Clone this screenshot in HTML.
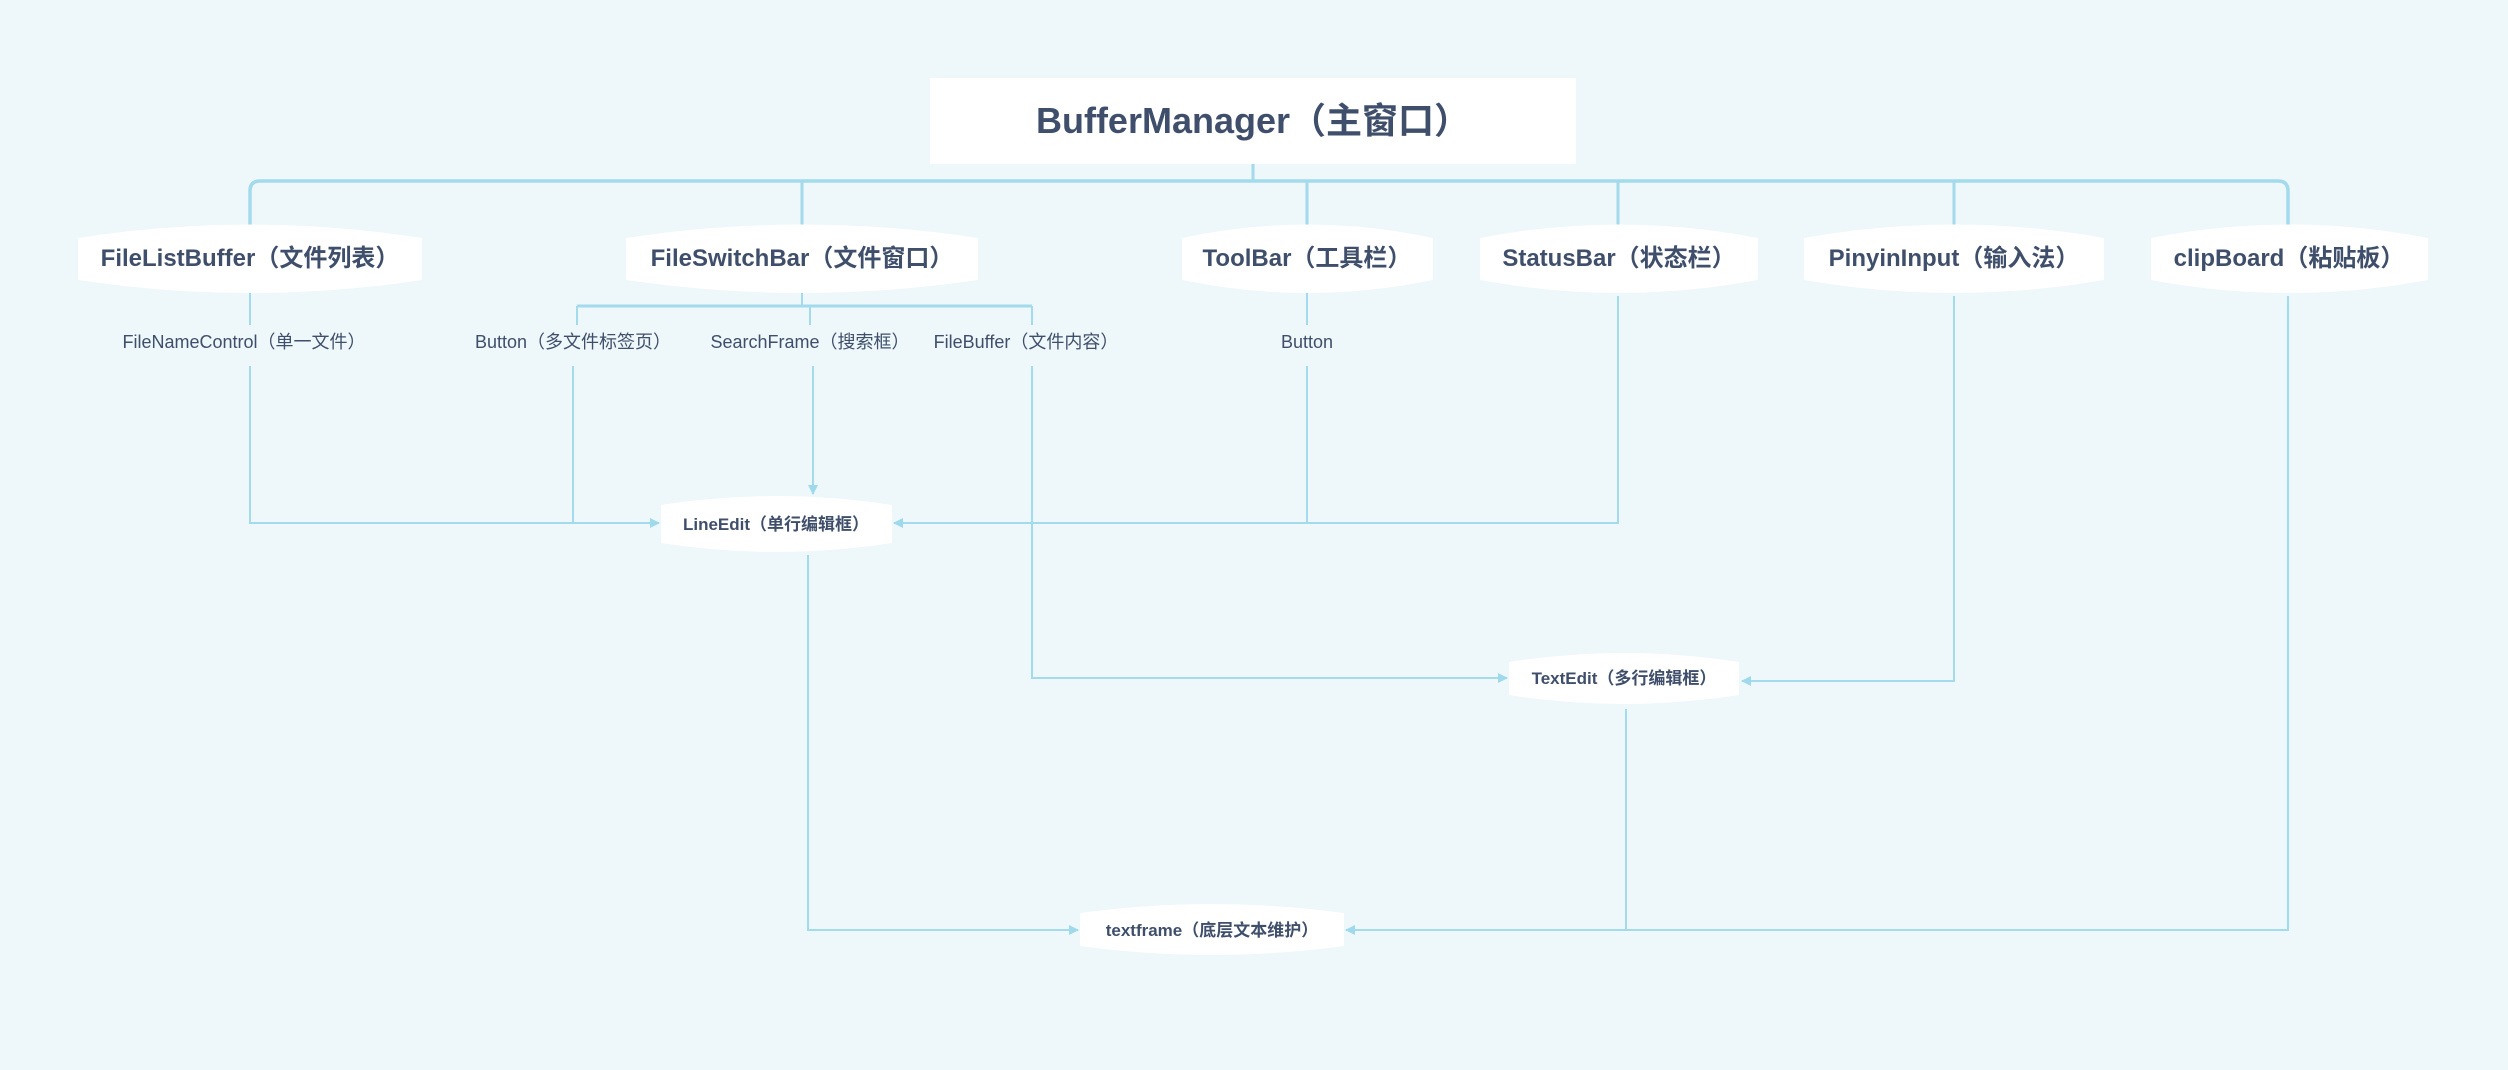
<!DOCTYPE html>
<html><head><meta charset="utf-8"><style>
html,body{margin:0;padding:0;background:#eef7fa;}
svg{display:block;}
text{font-family:"Liberation Sans","Noto Sans CJK SC",sans-serif;fill:#3f4f6b;}
.b{font-weight:bold;}
</style></head><body>
<svg width="2508" height="1070" viewBox="0 0 2508 1070" xmlns="http://www.w3.org/2000/svg">
<defs>
<marker id="ar" markerWidth="10" markerHeight="10" refX="9" refY="5" orient="auto" markerUnits="userSpaceOnUse">
<path d="M0,0 L10,5 L0,10 Z" fill="#9ed9ec"/>
</marker>
</defs>
<rect x="0" y="0" width="2508" height="1070" fill="#eef7fa"/>
<g fill="none" stroke="#a3daec" stroke-width="3">
<!-- top tree -->
<path d="M1253,164 V181"/>
<path d="M250,228 V191 Q250,181 260,181 H2278 Q2288,181 2288,191 V228" stroke-width="3.5"/>
<path d="M802,181 Q802,181 802,228"/>
<path d="M1307,181 V228"/><path d="M1618,181 V228"/><path d="M1954,181 V228"/>
</g>
<g fill="none" stroke="#a3daec" stroke-width="2">
<path d="M250,289 V325"/>
<path d="M802,289 V306"/>
<path d="M577,306 H1032" stroke-width="3"/>
<path d="M577,306 V325"/><path d="M810,306 V325"/><path d="M1032,306 V325"/>
<path d="M1307,289 V325"/>
<!-- to LineEdit -->
<path d="M250,366 V523 H659" marker-end="url(#ar)"/>
<path d="M573,366 V523"/>
<path d="M813,366 V494" marker-end="url(#ar)"/>
<path d="M1307,366 V523"/>
<path d="M1618,296 V523 H894" marker-end="url(#ar)"/>
<!-- to TextEdit -->
<path d="M1032,366 V678 H1507" marker-end="url(#ar)"/>
<path d="M1954,296 V681 H1742" marker-end="url(#ar)"/>
<!-- to textframe -->
<path d="M808,555 V930 H1078" marker-end="url(#ar)"/>
<path d="M1626,709 V930"/>
<path d="M2288,296 V930 H1346" marker-end="url(#ar)"/>
</g>
<!-- main box -->
<rect x="930" y="78" width="646" height="86" fill="#ffffff"/>
<text x="1253" y="133" text-anchor="middle" class="b" font-size="36">BufferManager（主窗口）</text>
<!-- level nodes -->
<g fill="#ffffff">
<path d="M78,238 Q250,211 422,238 V280 Q250,306 78,280 Z"/>
<path d="M626,238 Q802,211 978,238 V280 Q802,306 626,280 Z"/>
<path d="M1182,238 Q1307,211 1433,238 V280 Q1307,306 1182,280 Z"/>
<path d="M1480,238 Q1619,211 1758,238 V280 Q1619,306 1480,280 Z"/>
<path d="M1804,238 Q1954,211 2104,238 V280 Q1954,306 1804,280 Z"/>
<path d="M2151,238 Q2289,211 2428,238 V280 Q2289,306 2151,280 Z"/>
<path d="M661,505 Q776,487 892,505 V543 Q776,561 661,543 Z"/>
<path d="M1509,662 Q1624,644 1739,662 V695 Q1624,713 1509,695 Z"/>
<path d="M1080,913 Q1212,895 1344,913 V946 Q1212,964 1080,946 Z"/>
</g>
<g class="b" font-size="24" text-anchor="middle">
<text x="250" y="266">FileListBuffer（文件列表）</text>
<text x="802" y="266">FileSwitchBar（文件窗口）</text>
<text x="1307" y="266">ToolBar（工具栏）</text>
<text x="1619" y="266">StatusBar（状态栏）</text>
<text x="1954" y="266">PinyinInput（输入法）</text>
<text x="2289" y="266">clipBoard（粘贴板）</text>
</g>
<g font-size="18" text-anchor="middle">
<text x="244" y="348">FileNameControl（单一文件）</text>
<text x="573" y="348">Button（多文件标签页）</text>
<text x="810" y="348">SearchFrame（搜索框）</text>
<text x="1026" y="348">FileBuffer（文件内容）</text>
<text x="1307" y="348">Button</text>
</g>
<g class="b" font-size="17" text-anchor="middle">
<text x="776" y="530">LineEdit（单行编辑框）</text>
<text x="1624" y="684">TextEdit（多行编辑框）</text>
<text x="1212" y="936">textframe（底层文本维护）</text>
</g>
</svg>
</body></html>
